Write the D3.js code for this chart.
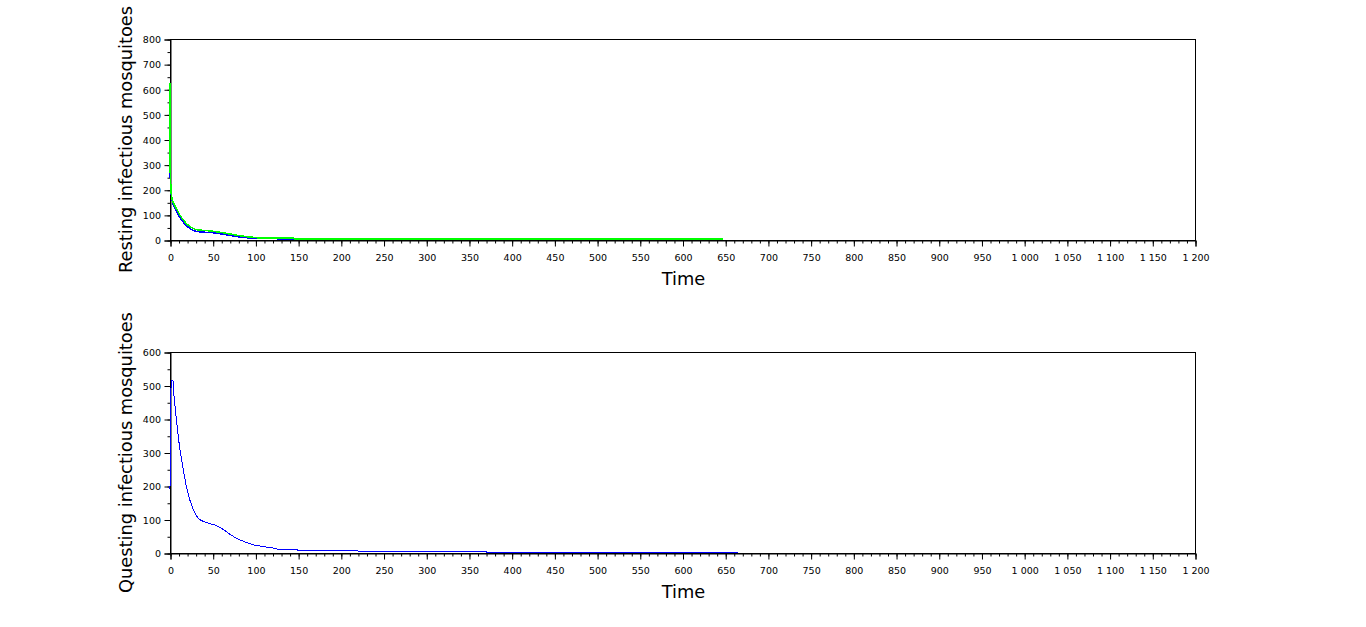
<!DOCTYPE html>
<html>
<head>
<meta charset="utf-8">
<script src="https://cdn.jsdelivr.net/npm/d3@7"></script>
<style>
  html, body { margin: 0; padding: 0; background: #fff; }
  svg { display: block; font-family: "DejaVu Sans", sans-serif; }
</style>
</head>
<body>
<svg id="chart" width="1366" height="627"></svg>
<script>
// ---------------- data ----------------
const xTickValues = d3.range(0, 1201, 50);
const xMinorValues = d3.range(0, 1201, 10);
const restingYTicks = d3.range(0, 801, 100);
const restingYMinor = d3.range(0, 801, 50);
const questingYTicks = d3.range(0, 601, 100);
const questingYMinor = d3.range(0, 601, 50);

const restingBlueTime = [0, 1.5, 3, 7, 11, 15, 19, 23, 27, 31, 40, 50, 60, 70, 80, 90, 100, 125, 126, 146];
const restingBlueValue = [265, 176, 147, 119, 93, 73, 58, 46, 38, 34, 31, 29, 24, 18, 13, 9, 6, 6, 4, 4];

const restingGreenTime = [0, 0.3, 1.5, 3, 7, 11, 15, 19, 23, 27, 31, 40, 50, 60, 70, 80, 90, 100, 103, 145, 146, 647];
const restingGreenValue = [624, 265, 182, 155, 128, 102, 82, 66, 54, 46, 41, 38, 35, 30, 24, 18, 13, 10, 8, 8, 4, 4];

const questingTime = [0, 0.5, 2.3, 3.5, 4.6, 7.4, 11, 14.7, 19, 23, 27, 30.6, 34.5, 40, 46, 52, 58, 64, 69, 75, 83, 91, 98, 108, 116, 124, 126, 149, 150, 220, 221, 370, 371, 665];
const questingValue = [190, 480, 515, 515, 470, 400, 320, 260, 200, 160, 130, 112, 100, 93, 88, 84, 77, 68, 58, 48, 38, 30, 24, 20, 16, 14, 11, 11, 7, 7, 4, 4, 1, 1];

const xLabel = "Time";
const restingLabel = "Resting infectious mosquitoes";
const questingLabel = "Questing infectious mosquitoes";

// ---------------- drawing ----------------
const svg = d3.select("#chart");
const locale = d3.formatLocale({decimal: ".", thousands: " ", grouping: [3], currency: ["", ""]});
const fmt = locale.format(",");

const left = 170, right = 1195;

function panel(top, bottom, yMax, yTicks, yMinor, yLabel, series) {
  const x = d3.scaleLinear().domain([0, 1200]).range([left, right]);
  const y = d3.scaleLinear().domain([0, yMax]).range([bottom, top]);
  const g = svg.append("g");

  // frame
  g.append("rect")
    .attr("x", left + 0.5).attr("y", top + 0.5)
    .attr("width", right - left).attr("height", bottom - top)
    .attr("fill", "none").attr("stroke", "#000").attr("stroke-width", 1);

  // x minor ticks
  g.append("g")
    .attr("transform", `translate(0.5,${bottom + 0.5})`)
    .call(d3.axisBottom(x).tickValues(xMinorValues).tickSize(3).tickFormat(""))
    .call(s => s.select(".domain").remove());
  // x major ticks
  const xa = g.append("g")
    .attr("transform", `translate(0.5,${bottom + 0.5})`)
    .call(d3.axisBottom(x).tickValues(xTickValues).tickSize(6).tickFormat(fmt));
  xa.select(".domain").attr("stroke", "#000");
  xa.selectAll("text").attr("y", 20).attr("dy", 0)
    .attr("font-size", 9.5).attr("font-family", "DejaVu Sans").attr("fill", "#000");

  // y minor ticks
  g.append("g")
    .attr("transform", `translate(${left + 0.5},0.5)`)
    .call(d3.axisLeft(y).tickValues(yMinor).tickSize(3).tickFormat(""))
    .call(s => s.select(".domain").remove());
  const ya = g.append("g")
    .attr("transform", `translate(${left + 0.5},0.5)`)
    .call(d3.axisLeft(y).tickValues(yTicks).tickSize(6).tickFormat(fmt));
  ya.selectAll("text").attr("x", -9.5).attr("dy", "0.35em")
    .attr("font-size", 9.5).attr("font-family", "DejaVu Sans").attr("fill", "#000");

  // series
  const line = d3.line().x(d => x(d[0])).y(d => y(d[1]));
  series.forEach(s => {
    const pts = s.t.map((t, i) => [t, s.v[i]]);
    g.append("path").datum(pts)
      .attr("d", line)
      .attr("fill", "none")
      .attr("stroke", s.color)
      .attr("stroke-width", s.width)
      .attr("shape-rendering", "crispEdges");
  });

  // titles
  g.append("text")
    .attr("x", (left + right) / 2 + 1).attr("y", bottom + 45)
    .attr("text-anchor", "middle").attr("font-size", 17.8)
    .text(xLabel);
  g.append("text")
    .attr("transform", `translate(132,${(top + bottom) / 2}) rotate(-90)`)
    .attr("text-anchor", "middle").attr("font-size", 17.8)
    .text(yLabel);
}

panel(39, 240, 800, restingYTicks, restingYMinor, restingLabel, [
  {t: restingBlueTime, v: restingBlueValue, color: "#0000ff", width: 1.5},
  {t: restingGreenTime, v: restingGreenValue, color: "#00ff00", width: 1.5}
]);
panel(352, 553, 600, questingYTicks, questingYMinor, questingLabel, [
  {t: questingTime, v: questingValue, color: "#0000ff", width: 1}
]);
</script>
</body>
</html>
